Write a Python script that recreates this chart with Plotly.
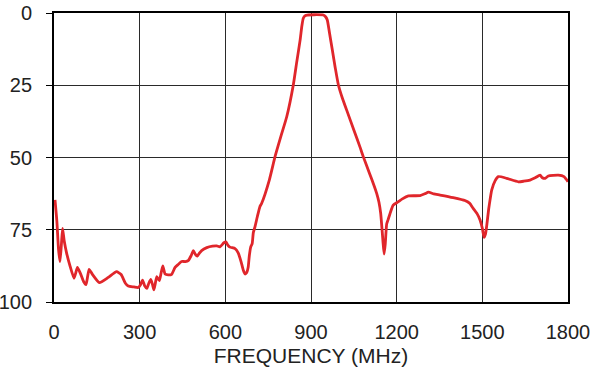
import plotly.graph_objects as go

freq_mhz = [3.5, 10, 16, 21, 26, 30, 36, 44, 56, 70, 76, 82, 92, 104, 112, 118, 123, 135, 159, 190,
            219, 235, 250, 260, 280, 295, 303, 310, 318, 325, 332, 339, 345, 350, 355, 360, 369, 375,
            381, 389, 400, 412, 424, 435, 447, 460, 470, 480, 488, 495, 502, 510, 517, 535, 555, 570,
            581, 595, 602, 608, 616, 634, 645, 655, 663, 669, 675, 680, 684, 689, 694, 698, 704, 712,
            721, 727, 754, 774, 795, 815, 838, 850, 862, 868, 873, 880, 887, 910, 943, 951, 957, 965,
            975, 985, 996, 1010, 1025, 1050, 1072, 1083, 1105, 1120, 1130, 1138, 1144, 1148, 1152,
            1156, 1160, 1165, 1170, 1178, 1188, 1206, 1220, 1241, 1282, 1300, 1311, 1330, 1352, 1398,
            1439, 1455, 1468, 1482, 1492, 1500, 1506, 1511, 1515, 1522, 1528, 1533, 1545, 1556, 1585,
            1626, 1645, 1667, 1685, 1702, 1710, 1720, 1731, 1766, 1786, 1800]
atten_db = [64.7, 72, 82, 86, 80, 74.5, 79, 83, 87.5, 91.8, 90, 88, 90, 93, 94, 91, 88.7, 90.5, 93.3, 91.5,
            89.5, 90.5, 93.5, 94.5, 94.8, 95, 94, 92.4, 94.5, 95.3, 93.5, 92.2, 94, 95.8, 93.5, 91.2, 92.6, 90,
            87.5, 90.3, 90.6, 90.4, 88, 87, 86, 86, 85.7, 84, 82.2, 83.5, 84.1, 83, 82.2, 81.2, 80.7, 80.6,
            80.9, 79.5, 79.2, 80.2, 81, 81.5, 83, 86, 89, 90.3, 89.8, 88, 84, 80.9, 79.8, 76, 73.9, 70.5,
            67, 65.9, 57.8, 49.7, 42.5, 35.9, 24.9, 17, 9.3, 4.5, 1.8, 0.9, 0.7, 0.6, 0.7, 1.3, 2.4, 7,
            13, 19, 24.9, 29.5, 33.6, 40.5, 46.5, 49.7, 55.5, 59.5, 62.4, 65.5, 69.3, 73.9, 79,
            83.4, 80, 73, 71.5, 69, 66.5, 65.3, 64.3, 63.3, 63.2, 62.5, 62, 62.6, 63, 63.9,
            64.9, 65.8, 67.6, 69.5, 71.6, 74.5, 77.6, 76.5, 73.9, 68, 64, 61.2, 58, 56.6, 57.2,
            58.4, 58.2, 57.8, 57, 56.1, 57, 57.2, 56.4, 56.1, 56.6, 58.4]

x_ticks = [0, 300, 600, 900, 1200, 1500, 1800]
y_ticks = [0, 25, 50, 75, 100]

fig = go.Figure()
fig.add_trace(go.Scatter(
    x=freq_mhz, y=atten_db, mode="lines",
    line=dict(color="#e0262b", width=2.8, shape="spline", smoothing=0.5),
    showlegend=False, hoverinfo="skip",
))

fig.update_layout(
    width=601, height=371,
    margin=dict(l=54, r=33, t=13, b=69),
    paper_bgcolor="white", plot_bgcolor="white",
    font=dict(family="Liberation Sans, Arial, sans-serif", size=20, color="#222"),
)
fig.update_xaxes(
    range=[0, 1800], tickvals=x_ticks, ticktext=[str(v) for v in x_ticks],
    showgrid=True, gridcolor="#2a2a2a", gridwidth=1.2,
    showline=True, linecolor="black", linewidth=1.8, mirror=True,
    ticks="", zeroline=False, ticklabelstandoff=11, automargin=False,
    title=dict(text="FREQUENCY (MHz)", font=dict(size=21), standoff=6),
)
fig.update_yaxes(
    range=[100, 0], tickvals=y_ticks, ticktext=[str(v) for v in y_ticks],
    showgrid=True, gridcolor="#2a2a2a", gridwidth=1.2,
    showline=True, linecolor="black", linewidth=1.8, mirror=True,
    ticks="outside", ticklen=6, tickcolor="black", zeroline=False,
    ticklabelstandoff=10, automargin=False,
)
fig.write_html("out.html", config={"displayModeBar": False},
               post_script="document.body.style.margin='0';document.body.style.overflow='hidden';")
